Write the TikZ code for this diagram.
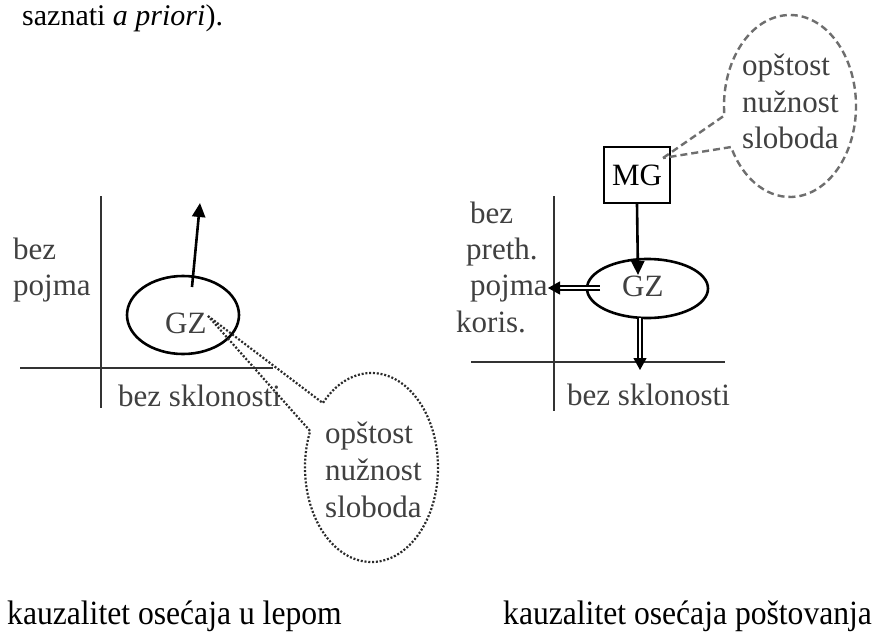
\documentclass[tikz,border=0pt]{standalone}
\usepackage{fontspec}
\setmainfont{Liberation Serif}
\newfontfamily\wfont{Liberation Serif}
\newfontfamily\cfont[FakeStretch=0.93]{Liberation Serif}
\usetikzlibrary{arrows.meta,shapes.geometric,calc}
\definecolor{txtgray}{HTML}{404040}
\definecolor{axgray}{HTML}{333333}
\definecolor{dotgray}{HTML}{2a2a2a}
\definecolor{dashgray}{HTML}{6e6e6e}
\begin{document}
\begin{tikzpicture}[x=1pt,y=-1pt,
  lbl/.style={anchor=base west, inner sep=0pt, text=txtgray, font=\wfont\fontsize{31}{31}\selectfont},
  capt/.style={anchor=base west, inner sep=0pt, text=black, font=\cfont\fontsize{34}{34}\selectfont},
  axline/.style={draw=axgray, line width=1.4pt},
  gzell/.style={draw=black, ellipse, line width=2.6pt, inner sep=0pt},
  mgbox/.style={draw=black, rectangle, line width=2.2pt, inner sep=0pt, minimum width=66pt, minimum height=56pt, font=\wfont\fontsize{31}{31}\selectfont},
  arr/.style={draw=black, line width=2.6pt, -{Triangle[length=14pt,width=13pt]}},
  dbl/.style={draw=black, double=white, double distance=2.8pt, line width=1.2pt, -{Triangle[length=12pt,width=13pt]}},
  dotc/.style={draw=dotgray, line width=2.2pt, dash pattern=on 2pt off 1.8pt},
  dashc/.style={draw=dashgray, line width=2.4pt, dash pattern=on 7pt off 4pt}
]
\useasboundingbox (0,0) rectangle (878,632);
\fill[white] (0,0) rectangle (878,632);

% header
\node[anchor=base west, inner sep=0pt, font=\fontsize{30}{30}\selectfont] (hdr) at (22,25) {saznati \textit{a priori}).};

% ---------------- left diagram ----------------
\draw[axline] (101,196) coordinate (vLt) -- (101,408) coordinate (vLb);
\draw[axline] (20,368) coordinate (hLl) -- (273,368) coordinate (hLr);
\node[lbl] (bezL) at (13,259) {bez};
\node[lbl] (pojmaL) at (13,295) {pojma};
\node[lbl] (sklL) at (118,406) {bez sklonosti};
\node[gzell, minimum width=112pt, minimum height=78pt] (gzL) at (183,315) {};
\node[lbl] (gzLt) at (165,333) {GZ};
\coordinate (stL) at (192,287);
\coordinate (upL) at (200,203);
\draw[arr] (stL) -- (upL);

% dotted callout
\coordinate (cL) at (371.5,467.5);
\coordinate (apL) at (208,316);
\draw[dotc] (apL) -- ($(cL)+(137:66.5pt and 94.5pt)$)
  arc[start angle=137, end angle=-202.7, x radius=66.5pt, y radius=94.5pt] -- cycle;
\node[lbl] (o1L) at (325,443) {opštost};
\node[lbl] (o2L) at (325,480) {nužnost};
\node[lbl] (o3L) at (325,517) {sloboda};

% ---------------- right diagram ----------------
\draw[axline] (554,196) coordinate (vRt) -- (554,411) coordinate (vRb);
\draw[axline] (471,362) coordinate (hRl) -- (725,362) coordinate (hRr);
\node[lbl] (bezR) at (470,223) {bez};
\node[lbl] (prethR) at (466,259) {preth.};
\node[lbl] (pojmaR) at (470,295) {pojma};
\node[lbl] (korisR) at (456,332) {koris.};
\node[lbl] (sklR) at (567,405) {bez sklonosti};
\node[mgbox] (mg) at (637,175) {MG};
\node[gzell, minimum width=121pt, minimum height=59pt] (gzR) at (647.5,288.5) {};
\node[lbl] (gzRt) at (622,296) {GZ};
\coordinate (gzRin) at (638,275);
\draw[arr] (mg.south) -- (gzRin);
\coordinate (gzRl) at (600,288);
\coordinate (tipL) at (548,288);
\draw[dbl] (gzRl) -- (tipL);
\coordinate (gzRb) at (640,318);
\coordinate (tipD) at (640,370);
\draw[dbl] (gzRb) -- (tipD);

% dashed callout
\coordinate (cR) at (790,106);
\coordinate (apR) at (663,158);
\draw[dashc] (apR) -- ($(cR)+(186:66pt and 91pt)$)
  arc[start angle=186, end angle=-153.2, x radius=66pt, y radius=91pt] -- cycle;
\node[lbl] (o1R) at (742,75) {opštost};
\node[lbl] (o2R) at (742,112) {nužnost};
\node[lbl] (o3R) at (742,148) {sloboda};

% captions
\node[capt] (capL) at (7,624) {kauzalitet osećaja u lepom};
\node[capt] (capR) at (503,624) {kauzalitet osećaja poštovanja};
\end{tikzpicture}
\end{document}
